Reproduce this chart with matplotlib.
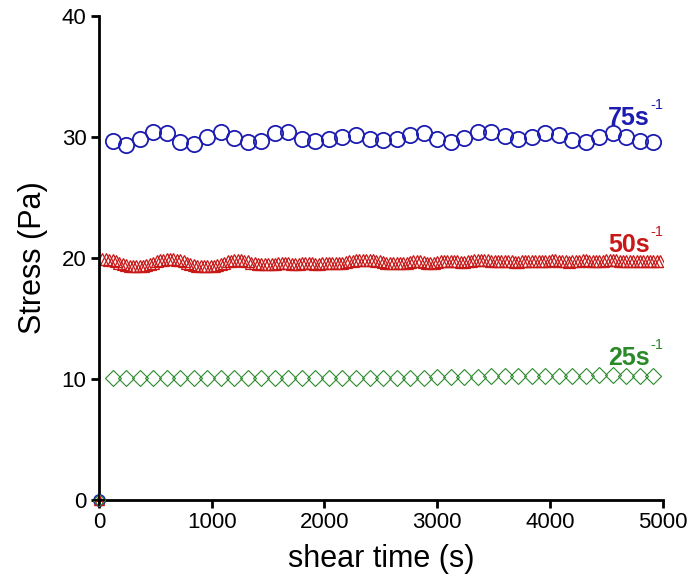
import numpy as np
import matplotlib
matplotlib.use("Agg")
import matplotlib.pyplot as plt

plt.rcParams['font.family'] = ['Liberation Sans', 'DejaVu Sans']

# shear rate 75 1/s, sampled every 120 s
t_75 = np.arange(120, 5000, 120)
stress_75 = [29.69, 29.34, 29.81, 30.44, 30.31, 29.56, 29.42, 30.02, 30.44, 29.89,
             29.61, 29.69, 30.31, 30.39, 29.83, 29.69, 29.81, 30.02, 30.17, 29.83,
             29.75, 29.81, 30.17, 30.31, 29.81, 29.61, 29.89, 30.44, 30.44, 30.08,
             29.81, 29.97, 30.35, 30.17, 29.75, 29.61, 30.02, 30.31, 30.02, 29.69,
             29.61]

# shear rate 50 1/s, sampled every 30 s
t_50 = np.arange(30, 5000, 30)
stress_50 = [19.9, 19.9, 19.85, 19.8, 19.7, 19.6, 19.5, 19.4, 19.35, 19.3,
             19.3, 19.3, 19.35, 19.4, 19.5, 19.6, 19.7, 19.8, 19.85, 19.9,
             19.9, 19.9, 19.85, 19.8, 19.7, 19.6, 19.5, 19.4, 19.35, 19.3,
             19.3, 19.3, 19.3, 19.35, 19.4, 19.5, 19.6, 19.7, 19.75, 19.8,
             19.8, 19.8, 19.75, 19.7, 19.6, 19.55, 19.5, 19.45, 19.45, 19.45,
             19.5, 19.5, 19.55, 19.6, 19.6, 19.55, 19.5, 19.5, 19.5, 19.55,
             19.6, 19.6, 19.55, 19.5, 19.5, 19.55, 19.6, 19.6, 19.6, 19.55,
             19.55, 19.6, 19.65, 19.7, 19.75, 19.8, 19.8, 19.8, 19.85, 19.85,
             19.8, 19.75, 19.7, 19.65, 19.6, 19.6, 19.55, 19.55, 19.6, 19.6,
             19.6, 19.65, 19.7, 19.7, 19.7, 19.65, 19.6, 19.6, 19.6, 19.65,
             19.7, 19.7, 19.75, 19.75, 19.7, 19.7, 19.65, 19.65, 19.7, 19.75,
             19.8, 19.8, 19.85, 19.85, 19.8, 19.75, 19.7, 19.7, 19.7, 19.75,
             19.75, 19.7, 19.65, 19.65, 19.7, 19.7, 19.75, 19.75, 19.7, 19.7,
             19.7, 19.7, 19.75, 19.8, 19.8, 19.75, 19.7, 19.7, 19.65, 19.7,
             19.7, 19.75, 19.8, 19.8, 19.75, 19.7, 19.7, 19.7, 19.75, 19.8,
             19.85, 19.85, 19.8, 19.75, 19.7, 19.7, 19.7, 19.7, 19.75, 19.75,
             19.75, 19.7, 19.7, 19.7, 19.7, 19.7]

# shear rate 25 1/s, sampled every 120 s
t_25 = np.arange(120, 5000, 120)
stress_25 = [10.1, 10.1, 10.1, 10.1, 10.1, 10.1, 10.1, 10.1, 10.1, 10.1,
             10.1, 10.1, 10.1, 10.1, 10.1, 10.1, 10.1, 10.1, 10.1, 10.1,
             10.1, 10.1, 10.1, 10.1, 10.15, 10.15, 10.15, 10.15, 10.2, 10.2,
             10.2, 10.25, 10.2, 10.2, 10.2, 10.25, 10.3, 10.3, 10.25, 10.2,
             10.2]

rate_labels = ['75s', '50s', '25s']
label_y = [31.0, 20.5, 11.15]

blue = '#1c1cb0'
red = '#c81818'
green = '#2a8a2a'

fig = plt.figure(figsize=(6.93, 5.86), dpi=100)
ax = fig.add_axes([0.143, 0.147, 0.813, 0.826])

ax.plot(t_75, stress_75, 'o', ms=11, mfc='none', mec=blue, mew=1.3)
ax.plot(t_50, stress_50, '^', ms=9, mfc='none', mec=red, mew=0.9)
ax.plot(t_25, stress_25, 'D', ms=8.5, mfc='none', mec=green, mew=0.8)

# starting points at t = 0
ax.plot([0], [0], 'o', ms=8, mfc='none', mec=blue, mew=1.2, clip_on=False, zorder=5)
ax.plot([0], [0], '^', ms=7, mfc='none', mec=red, mew=1.0, clip_on=False, zorder=5)
ax.plot([0], [0], 'D', ms=6, mfc='none', mec=green, mew=0.8, clip_on=False, zorder=5)
ax.plot([0], [0], '+', ms=8, color='black', mew=1.2, clip_on=False, zorder=6)

# rate labels with a small "-1" superscript
for text, y, c in zip(rate_labels, label_y, [blue, red, green]):
    ax.text(4885, y, text, color=c, fontsize=18, fontweight='bold',
            ha='right', va='baseline')
    ax.annotate('-1', xy=(4885, y), xytext=(0.5, 11.5), textcoords='offset points',
                color=c, fontsize=10.5, ha='left', va='baseline')

ax.set_xlim(0, 5000)
ax.set_ylim(0, 40)
ax.set_xticks([0, 1000, 2000, 3000, 4000, 5000])
ax.set_yticks([0, 10, 20, 30, 40])

for side in ['top', 'right']:
    ax.spines[side].set_visible(False)
for side in ['left', 'bottom']:
    ax.spines[side].set_linewidth(2)

ax.tick_params(direction='out', length=6, width=2, labelsize=16, pad=3)
ax.set_xlabel('shear time (s)', fontsize=22, labelpad=8)
ax.set_ylabel('Stress (Pa)', fontsize=22, labelpad=10)

fig.savefig('out.png', dpi=100, facecolor='white')
